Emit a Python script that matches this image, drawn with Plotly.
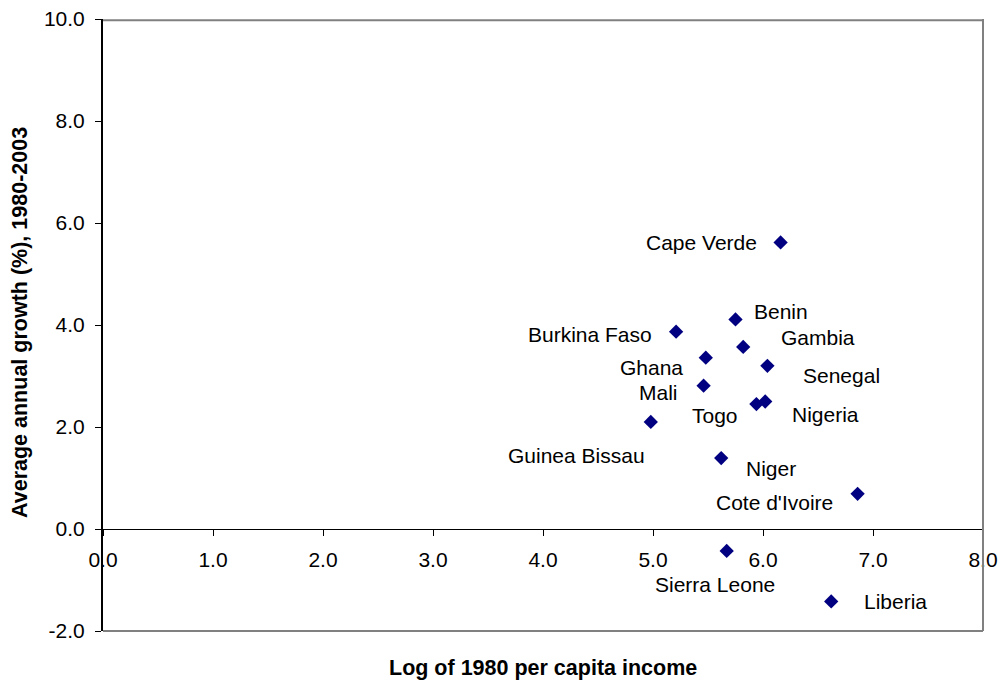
import plotly.graph_objects as go

countries = ["Cape Verde", "Benin", "Burkina Faso", "Gambia", "Ghana", "Senegal", "Mali",
             "Togo", "Nigeria", "Guinea Bissau", "Niger", "Cote d'Ivoire", "Sierra Leone", "Liberia"]
log_income_1980 = [6.16, 5.75, 5.21, 5.82, 5.48, 6.04, 5.46, 5.94, 6.02, 4.98, 5.62, 6.86, 5.67, 6.62]
avg_growth = [5.62, 4.11, 3.87, 3.57, 3.36, 3.20, 2.81, 2.45, 2.50, 2.10, 1.39, 0.69, -0.43, -1.42]

x_ticks = [0, 1, 2, 3, 4, 5, 6, 7, 8]
x_tick_labels = ["0.0", "1.0", "2.0", "3.0", "4.0", "5.0", "6.0", "7.0", "8.0"]
y_ticks = [-2, 0, 2, 4, 6, 8, 10]
y_tick_labels = ["-2.0", "0.0", "2.0", "4.0", "6.0", "8.0", "10.0"]

# label offsets in pixels (text centre relative to marker)
label_offsets = {
    "Cape Verde": (-79, 0), "Benin": (45, 8), "Burkina Faso": (-86, -3), "Gambia": (75, 9),
    "Ghana": (-54, -10), "Senegal": (74, -10), "Mali": (-45, -7), "Togo": (-41, -11),
    "Nigeria": (60, -13), "Guinea Bissau": (-74, -34), "Niger": (50, -10),
    "Cote d'Ivoire": (-83, -9), "Sierra Leone": (-12, -34), "Liberia": (64, 0),
}

FONT = "Liberation Sans, Arial, sans-serif"
BORDER = "#808080"

fig = go.Figure()
fig.add_trace(go.Scatter(
    x=log_income_1980, y=avg_growth, mode="markers",
    marker=dict(symbol="diamond", size=11, color="#000080", line=dict(width=0)),
    hoverinfo="text", text=countries, showlegend=False,
))

for c, xv, yv in zip(countries, log_income_1980, avg_growth):
    dx, dy = label_offsets[c]
    fig.add_annotation(x=xv, y=yv, xref="x", yref="y", text=c, showarrow=False,
                       xshift=dx, yshift=dy, font=dict(family=FONT, size=21, color="black"))

# gray border (top, right, bottom); left edge is the black y axis
for x0, y0, x1, y1 in [(0, 0.998, 1, 0.998), (1, 0, 1, 1), (0, 0, 1, 0)]:
    fig.add_shape(type="line", xref="paper", yref="paper", x0=x0, y0=y0, x1=x1, y1=y1,
                  line=dict(color=BORDER, width=2), layer="above")

fig.update_layout(
    width=1002, height=681,
    margin=dict(l=103, r=19, t=19, b=50, autoexpand=False),
    plot_bgcolor="white", paper_bgcolor="white",
    font=dict(family=FONT, size=21, color="black"),
    xaxis=dict(range=[0, 8], tickvals=x_ticks, ticktext=x_tick_labels, showgrid=False, zeroline=False,
               showline=True, linecolor="black", linewidth=1, ticks="outside", ticklen=6,
               tickcolor="black", anchor="free", position=2 / 12, ticklabelstandoff=6,
               automargin=False, tickfont=dict(family=FONT, size=21, color="black")),
    yaxis=dict(range=[-2, 10], tickvals=y_ticks, ticktext=y_tick_labels, showgrid=False, zeroline=False,
               showline=True, linecolor="black", linewidth=2, ticks="outside", ticklen=6,
               tickcolor="black", ticklabelstandoff=6, automargin=False,
               tickfont=dict(family=FONT, size=21, color="black")),
)

fig.add_annotation(text="<b>Log of 1980 per capita income</b>", xref="paper", yref="paper",
                   x=0.5, y=0, yanchor="middle", xanchor="center", yshift=-37, showarrow=False,
                   font=dict(family=FONT, size=21.5, color="black"))
fig.add_annotation(text="<b>Average annual growth (%), 1980-2003</b>", xref="paper", yref="paper",
                   x=0, xshift=-83, y=0.5, yshift=2, xanchor="center", yanchor="middle",
                   textangle=-90, showarrow=False,
                   font=dict(family=FONT, size=21.5, color="black"))

fig.write_html("out.html", config={"displayModeBar": False},
               post_script="document.body.style.margin='0';")
